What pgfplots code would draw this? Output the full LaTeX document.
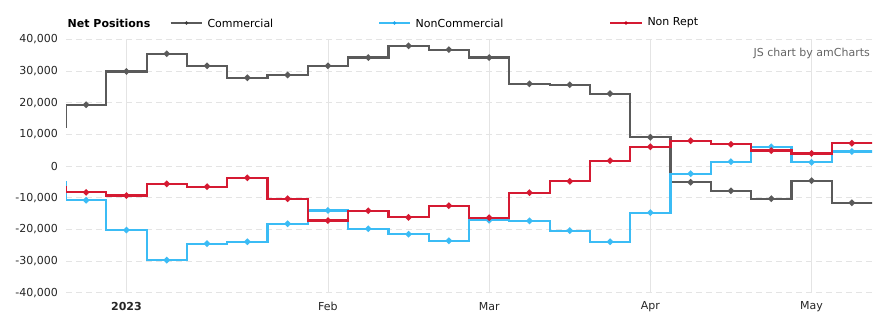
\documentclass[border=0pt]{standalone}
\usepackage{fontspec}
\setmainfont{DejaVu Sans}
\usepackage{pgfplots}
\usepackage{pgfplotstable}
\pgfplotsset{compat=1.18}
\definecolor{comc}{HTML}{5A5A5A}
\definecolor{comm}{HTML}{3A3A3A}
\definecolor{ncc}{HTML}{3BBCF5}
\definecolor{ncm}{HTML}{1EA6EC}
\definecolor{nrc}{HTML}{D51A32}
\definecolor{nrm}{HTML}{C4001A}
\definecolor{gridc}{HTML}{E4E4E4}
\pgfplotstableread{
x com nc nr
0 12500 -5200 -6600
1 19400 -10800 -8300
2 29900 -20200 -9300
3 35500 -29700 -5600
4 31700 -24500 -6500
5 27900 -23900 -3700
6 28800 -18200 -10300
7 31700 -14000 -17200
8 34300 -19800 -14100
9 38000 -21500 -16200
10 36800 -23600 -12500
11 34300 -17100 -16300
12 26000 -17300 -8400
13 25700 -20400 -4800
14 22900 -23900 1700
15 9100 -14700 6100
16 -5100 -2400 8000
17 -7800 1400 6900
18 -10300 6100 4900
19 -4600 1200 4000
20 -11600 4600 7200
21 -11600 4600 7200
}\data
\begin{document}
\begin{tikzpicture}[x=1bp,y=1bp,font=\fontsize{11bp}{13bp}\selectfont]
\useasboundingbox[fill=white] (0,0) rectangle (887,327);
\begin{axis}[
  at={(66bp,34.3bp)}, anchor=south west, scale only axis,
  width=806bp, height=253.2bp,
  xmin=0.5, xmax=20.5, ymin=-40000, ymax=40000,
  axis line style={draw=none}, major tick length=0pt,
  xtick={2,7,11,15,19},
  xticklabels={\textbf{2023},Feb,Mar,Apr,May},
  ytick={-40000,-30000,...,40000},
  scaled y ticks=false,
  /pgf/number format/assume math mode=true,
  yticklabel={\pgfmathprintnumber[1000 sep={,}]{\tick}},
  tick label style={font=\fontsize{11bp}{13bp}\selectfont, text=black!85},
  yticklabel style={anchor=east, inner sep=0pt, xshift=-8bp},
  xticklabel style={anchor=center, inner sep=0pt, yshift=-14bp},
  xmajorgrids, ymajorgrids,
  every axis x grid/.style={draw=gridc, line width=0.8bp},
  every axis y grid/.style={draw=gridc, line width=0.8bp, dash pattern=on 6bp off 4bp},
  clip marker paths=true,
]
\addplot[const plot mark mid, draw=comc, line width=2.2bp, mark=*, mark size=1.9bp, mark options={fill=comm, draw=none}] table[x=x,y=com]{\data};
\addplot[const plot mark mid, draw=ncc, line width=2.2bp, mark=*, mark size=1.9bp, mark options={fill=ncm, draw=none}] table[x=x,y=nc]{\data};
\addplot[const plot mark mid, draw=nrc, line width=2.2bp, mark=*, mark size=1.9bp, mark options={fill=nrm, draw=none}] table[x=x,y=nr]{\data};
\end{axis}
\node[anchor=west, inner sep=0pt, font=\fontsize{11bp}{13bp}\selectfont\bfseries] at (67.5,304) {Net Positions};
\draw[comc, line width=2.2bp] (170.5,304)--(201.5,304); \fill[comm] (186.5,304) circle (1.9bp);
\node[anchor=west, inner sep=0pt] at (207.3,304) {Commercial};
\draw[ncc, line width=2.2bp] (379,304)--(410,304); \fill[ncm] (394.5,304) circle (1.9bp);
\node[anchor=west, inner sep=0pt] at (415.5,304) {NonCommercial};
\draw[nrc, line width=2.2bp] (610,304)--(641.5,304); \fill[nrm] (626,304) circle (1.9bp);
\node[anchor=west, inner sep=0pt] at (647.3,304) {Non Rept};
\node[anchor=east, inner sep=0pt, text=black!60] at (870,274) {JS chart by amCharts};
\end{tikzpicture}
\end{document}
